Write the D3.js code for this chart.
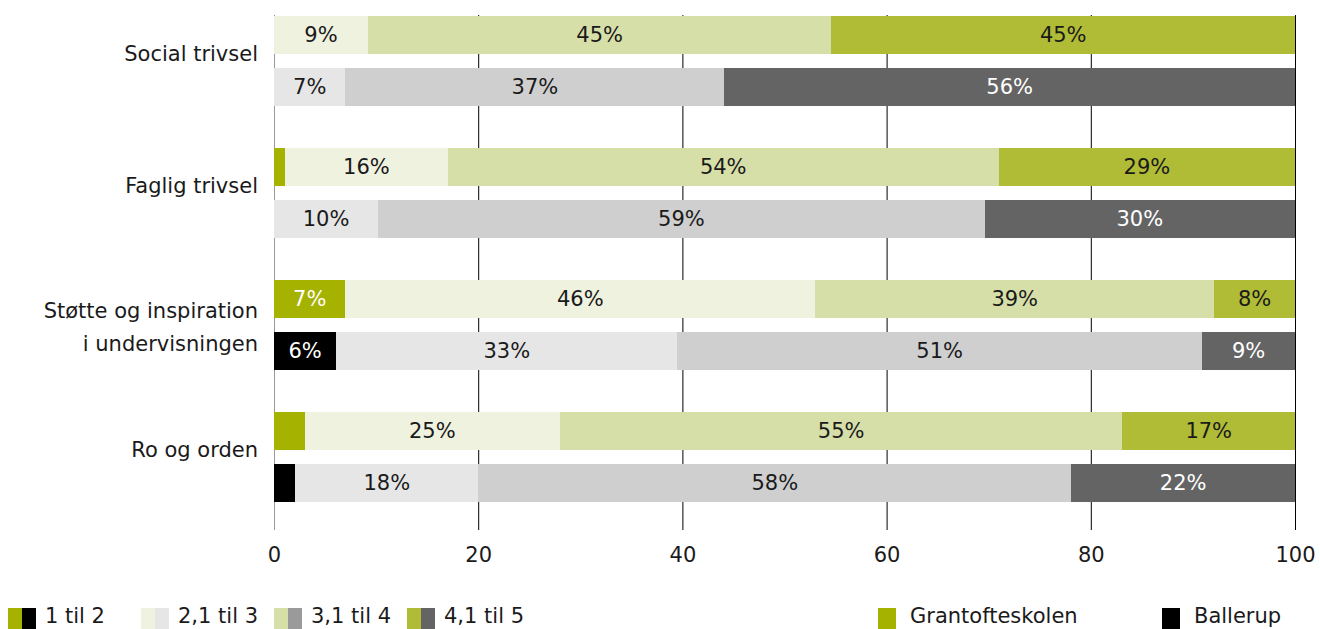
<!DOCTYPE html>
<html lang="da">
<head>
<meta charset="utf-8">
<title>Trivsel - Grantofteskolen og Ballerup</title>
<script src="https://d3js.org/d3.v7.min.js"></script>
<style>
    body { margin: 0; background: #fff; }
    svg text { font-family: "DejaVu Sans", sans-serif; font-size: 21px; }
</style>
</head>
<body>
<div id="chart"></div>
<script>
// Data
var categories = ["Social trivsel", "Faglig trivsel", "Støtte og inspiration\ni undervisningen", "Ro og orden"];
var levels = ["1 til 2", "2,1 til 3", "3,1 til 4", "4,1 til 5"];
var schools = ["Grantofteskolen", "Ballerup"];
var grantofteValues = [
    [0, 9.2, 45.4, 45.4],
    [1.1, 15.9, 54.0, 29.0],
    [7.0, 46.0, 39.1, 7.9],
    [3.0, 25.0, 55.1, 16.9]
];
var ballerupValues = [
    [0, 7.0, 37.1, 55.9],
    [0, 10.2, 59.4, 30.4],
    [6.1, 33.4, 51.4, 9.1],
    [2.1, 17.9, 58.1, 21.9]
];
var xTicks = [0, 20, 40, 60, 80, 100];

// colours per school, per level
var barColors = {
    "Grantofteskolen": ["#a5b200", "#f0f2e0", "#d7dfa9", "#b0bb36"],
    "Ballerup": ["#000000", "#e6e6e6", "#cfcfcf", "#646464"]
};
var legendColors = {
    "Grantofteskolen": ["#a5b200", "#f0f2e0", "#d7dfa9", "#b0bb36"],
    "Ballerup": ["#000000", "#e6e6e6", "#9a9a9a", "#646464"]
};
var whiteText = ["#000000", "#a5b200", "#646464"];

var width = 1320, height = 629;

var svg = d3.select("#chart").append("svg")
    .attr("width", width)
    .attr("height", height);

var x = d3.scaleLinear().domain([0, 100]).range([274, 1295]);

var y = d3.scaleBand()
    .domain(categories)
    .range([16, 502])
    .paddingInner(42 / 132)
    .paddingOuter(0);

var ySub = d3.scaleBand()
    .domain(schools)
    .range([0, y.bandwidth()])
    .paddingInner(14 / 52);

// grid lines + tick labels
var axis = d3.axisBottom(x)
    .tickValues(xTicks)
    .tickFormat(d3.format("d"))
    .tickSizeInner(-515)
    .tickSizeOuter(0)
    .tickPadding(17);

var gAxis = svg.append("g")
    .attr("transform", "translate(0,530)")
    .call(axis);
gAxis.select(".domain").remove();
gAxis.selectAll(".tick line")
    .attr("stroke", function (d) { return d === 0 ? "#999" : "#000"; });
gAxis.selectAll(".tick text")
    .attr("fill", "#1a1a1a")
    .style("font-size", "21px")
    .style("font-family", "DejaVu Sans, sans-serif");

// stacked rows
var rows = [];
categories.forEach(function (c, i) {
    schools.forEach(function (s) {
        var vals = s === "Grantofteskolen" ? grantofteValues[i] : ballerupValues[i];
        var start = 0;
        vals.forEach(function (v, j) {
            rows.push({ cat: c, school: s, level: j, x0: start, x1: start + v, value: v });
            start += v;
        });
    });
});

var seg = svg.append("g").selectAll("g.seg")
    .data(rows)
    .enter().append("g")
    .attr("class", "seg");

seg.append("rect")
    .attr("x", function (d) { return x(d.x0); })
    .attr("y", function (d) { return y(d.cat) + ySub(d.school); })
    .attr("width", function (d) { return x(d.x1) - x(d.x0); })
    .attr("height", ySub.bandwidth())
    .attr("shape-rendering", "crispEdges")
    .attr("fill", function (d) { return barColors[d.school][d.level]; });

seg.filter(function (d) { return d.value >= 5; })
    .append("text")
    .attr("x", function (d) { return (x(d.x0) + x(d.x1)) / 2; })
    .attr("y", function (d) { return y(d.cat) + ySub(d.school) + ySub.bandwidth() / 2 + 7; })
    .attr("text-anchor", "middle")
    .attr("fill", function (d) {
        return whiteText.indexOf(barColors[d.school][d.level]) >= 0 ? "#fff" : "#1a1a1a";
    })
    .text(function (d) { return Math.round(d.value) + "%"; });

// category labels
svg.append("g").selectAll("text")
    .data(categories)
    .enter().append("text")
    .attr("text-anchor", "end")
    .attr("fill", "#1a1a1a")
    .attr("y", function (d) {
        var n = d.split("\n").length;
        return y(d) + y.bandwidth() / 2 - (n - 1) * 7;
    })
    .each(function (d) {
        var t = d3.select(this);
        d.split("\n").forEach(function (line, k) {
            t.append("tspan")
                .attr("x", 258)
                .attr("dy", k === 0 ? 0 : 33)
                .text(line);
        });
    });

// legend
var legend = svg.append("g");
var levelX = [8, 141, 274, 407];
levels.forEach(function (lv, j) {
    var g = legend.append("g").attr("transform", "translate(" + levelX[j] + ",608)");
    schools.forEach(function (s, k) {
        g.append("rect")
            .attr("x", k * 14)
            .attr("y", 0)
            .attr("width", 14)
            .attr("height", 22)
            .attr("fill", legendColors[s][j]);
    });
    g.append("text")
        .attr("x", 37)
        .attr("y", 15)
        .attr("fill", "#1a1a1a")
        .text(lv);
});

var schoolX = [878, 1162];
schools.forEach(function (s, k) {
    var g = legend.append("g").attr("transform", "translate(" + schoolX[k] + ",608)");
    g.append("rect")
        .attr("width", 18)
        .attr("height", 22)
        .attr("fill", barColors[s][0]);
    g.append("text")
        .attr("x", 32)
        .attr("y", 15)
        .attr("fill", "#1a1a1a")
        .text(s);
});
</script>
</body>
</html>
